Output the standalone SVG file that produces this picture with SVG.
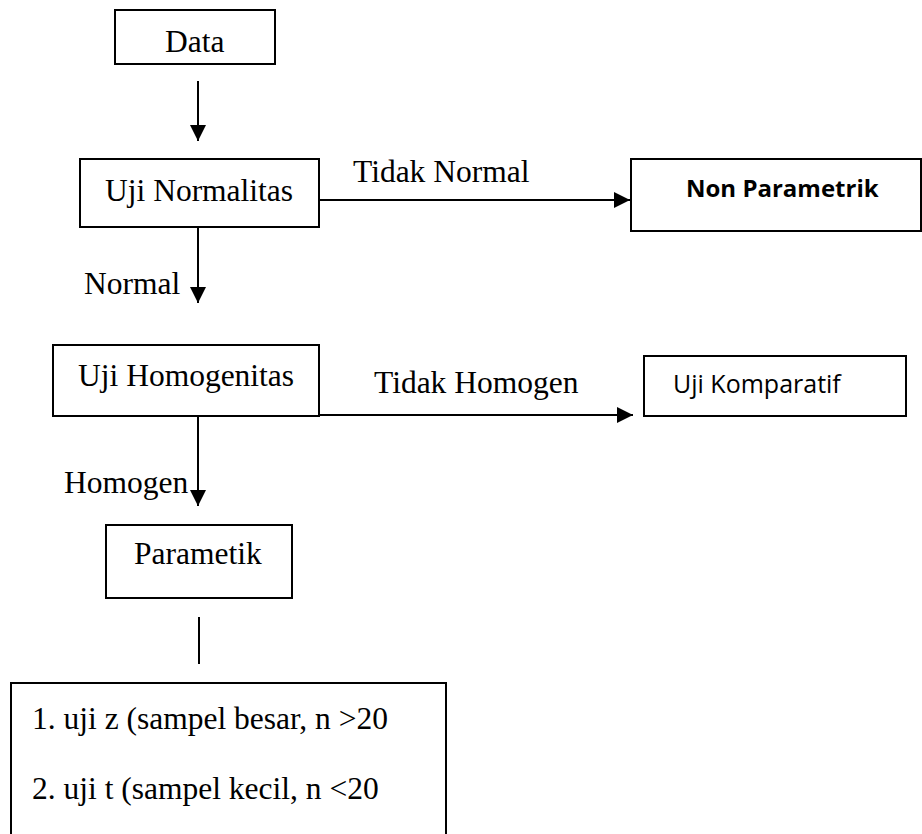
<svg xmlns="http://www.w3.org/2000/svg" width="922" height="834" viewBox="0 0 922 834">
<style>
.box{fill:#fff;stroke:#000;stroke-width:2}
.t{font-family:"Liberation Serif","Times New Roman",serif;font-size:31.5px;fill:#000}
.s{font-family:"Open Sans","Noto Sans",sans-serif;font-size:25px;fill:#000}
.b{font-weight:bold;font-size:24px}
.c{stroke:#000;stroke-width:2;fill:none}
</style>
<defs>
<marker id="ah" viewBox="0 0 16 16" refX="16" refY="8" markerWidth="16" markerHeight="16" markerUnits="userSpaceOnUse" orient="auto">
<path d="M0,0 L16,8 L0,16 z" fill="#000"/>
</marker>
</defs>
<rect width="922" height="834" fill="#fff"/>
<g id="connectors">
<line class="c" x1="198" y1="81" x2="198" y2="141" marker-end="url(#ah)"/>
<line class="c" x1="198" y1="228" x2="198" y2="303" marker-end="url(#ah)"/>
<line class="c" x1="320" y1="200" x2="630" y2="200" marker-end="url(#ah)"/>
<line class="c" x1="198" y1="417" x2="198" y2="506" marker-end="url(#ah)"/>
<line class="c" x1="320" y1="415" x2="633" y2="415" marker-end="url(#ah)"/>
<line class="c" x1="199" y1="617" x2="199" y2="664"/>
<text class="t" x="353" y="182">Tidak Normal</text>
<text class="t" x="84" y="294">Normal</text>
<text class="t" x="374" y="393">Tidak Homogen</text>
<text class="t" x="64" y="493">Homogen</text>
</g>
<g id="data">
<rect class="box" x="115" y="10" width="160" height="54"/>
<text class="t" x="165" y="52">Data</text>
</g>
<g id="uji-normalitas">
<rect class="box" x="80" y="159" width="239" height="68"/>
<text class="t" x="105" y="201">Uji Normalitas</text>
</g>
<g id="non-parametrik">
<rect class="box" x="631" y="159" width="290" height="72"/>
<text class="s b" x="686" y="197">Non Parametrik</text>
</g>
<g id="uji-homogenitas">
<rect class="box" x="53" y="345" width="266" height="71"/>
<text class="t" x="78" y="386">Uji Homogenitas</text>
</g>
<g id="uji-komparatif">
<rect class="box" x="644" y="356" width="262" height="60"/>
<text class="s" x="673" y="393">Uji Komparatif</text>
</g>
<g id="parametik">
<rect class="box" x="106" y="525" width="186" height="73"/>
<text class="t" x="134" y="564">Parametik</text>
</g>
<g id="uji-list">
<rect class="box" x="11" y="683" width="435" height="170"/>
<text class="t" x="32" y="729">1. uji z (sampel besar, n &gt;20</text>
<text class="t" x="32" y="799">2. uji t (sampel kecil, n &lt;20</text>
</g>
</svg>
